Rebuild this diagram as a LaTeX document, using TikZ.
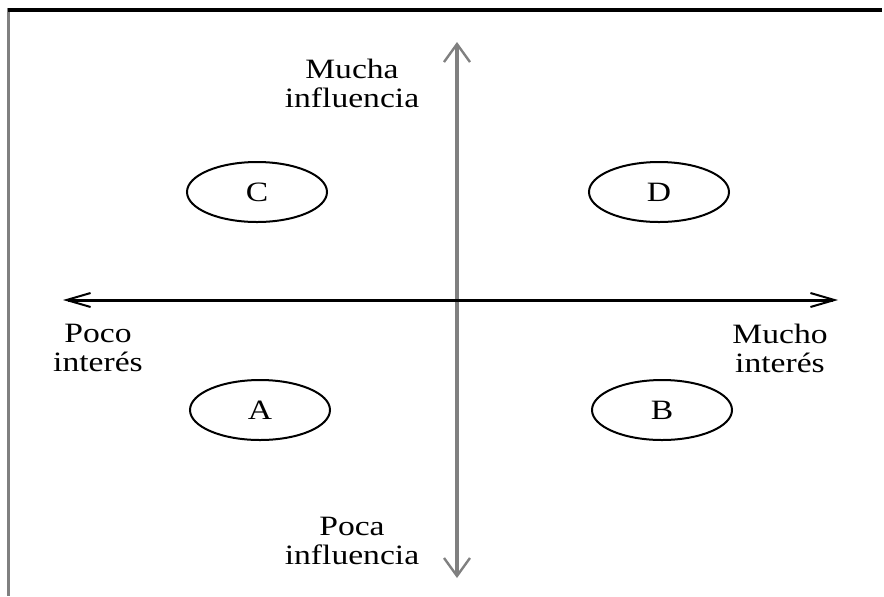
\documentclass[tikz,border=0pt]{standalone}
\usepackage{fontspec}
\setmainfont{Liberation Serif}[FakeStretch=1.2]
\usetikzlibrary{shapes.geometric,arrows.meta}

\begin{document}
\begin{tikzpicture}[x=0.5pt,y=-0.5pt,font=\fontsize{14}{14.5}\selectfont]
    \tikzstyle{stakeholder}=[ellipse,draw=black,line width=1pt,minimum width=70pt,minimum height=30pt,inner sep=0pt]
    \tikzstyle{annot}=[align=center,inner sep=0pt]
    \tikzstyle{vaxis}=[draw=black!50,line width=2pt,{Straight Barb[length=9pt,width=13pt,line width=1.2pt]}-{Straight Barb[length=9pt,width=13pt,line width=1.2pt]}]
    \tikzstyle{haxis}=[draw=black,line width=1.5pt,{Straight Barb[length=12pt,width=7pt,line width=1pt]}-{Straight Barb[length=12pt,width=7pt,line width=1pt]}]

    \useasboundingbox (0,0) rectangle (884,596);

    % Frame (top and left only)
    \draw[black!50,line width=1.5pt] (8.5,8) -- (8.5,596);
    \draw[black,line width=2pt] (8,10) -- (882,10);

    % Axes
    \coordinate (top) at (457,42);
    \coordinate (bottom) at (457,578);
    \coordinate (left) at (63,300);
    \coordinate (right) at (838,300);
    \path[vaxis] (bottom) -- (top);
    \path[haxis] (left) -- (right);

    % Groups
    \node[stakeholder] (C) at (257,192) {C};
    \node[stakeholder] (D) at (659,192) {D};
    \node[stakeholder] (A) at (260,410) {A};
    \node[stakeholder] (B) at (662,410) {B};

    % Annotate the axes
    \node[annot] (mi) at (352,83) {Mucha\\influencia};
    \node[annot] (pi) at (352,541) {Poca\\influencia};
    \node[annot] (poco) at (98,348) {Poco\\interés};
    \node[annot] (mucho) at (780,348) {Mucho\\interés};

\end{tikzpicture}
\end{document}
